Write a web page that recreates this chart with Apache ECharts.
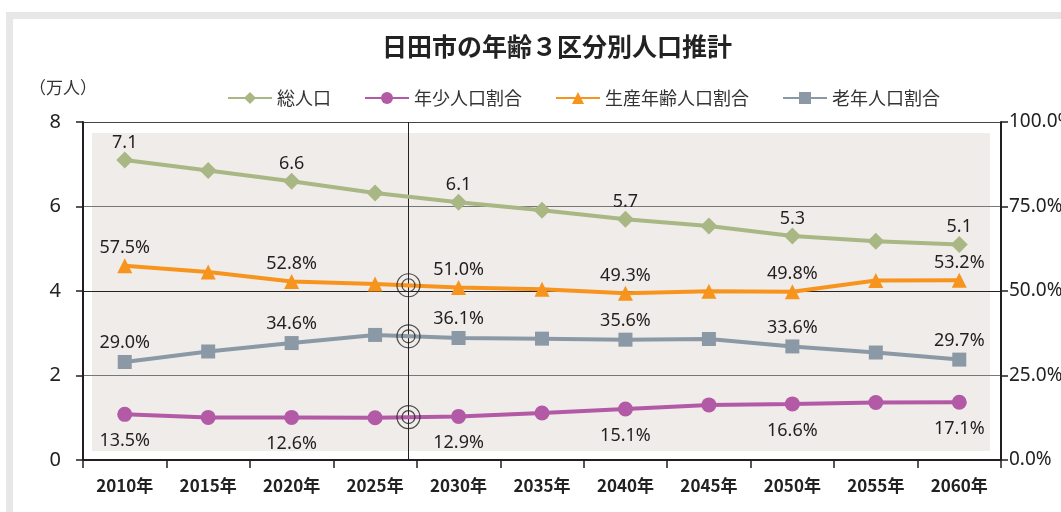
<!DOCTYPE html>
<html>
<head>
<meta charset="utf-8">
<script src="https://cdn.jsdelivr.net/npm/echarts@6/dist/echarts.min.js"></script>
<style>
html,body{margin:0;padding:0;background:#fff;}
#main{width:1061px;height:512px;}
</style>
</head>
<body>
<div id="main"></div>
<script>
// 年次
var years = ['2010年','2015年','2020年','2025年','2030年','2035年','2040年','2045年','2050年','2055年','2060年'];
// 総人口（万人）
var totalPop = [7.1, 6.85, 6.6, 6.32, 6.1, 5.91, 5.7, 5.54, 5.3, 5.18, 5.1];
// 年少人口割合（%）
var youngRate = [13.5, 12.6, 12.6, 12.5, 12.9, 13.9, 15.1, 16.3, 16.6, 17.0, 17.1];
// 生産年齢人口割合（%）
var workRate = [57.5, 55.6, 52.8, 52.1, 51.0, 50.5, 49.3, 49.9, 49.8, 53.1, 53.2];
// 老年人口割合（%）
var oldRate = [29.0, 32.1, 34.6, 37.0, 36.1, 35.9, 35.6, 35.8, 33.6, 31.8, 29.7];
// ラベルを出す年のindex
var labelIdx = [0, 2, 4, 6, 8, 10];
// 縦線と◎の位置
var markYear = 2027;
var markRates = [51.7, 36.6, 12.7];

var txtColor = '#231f20';

var makeLine = function(name, values, color, symbol, size, yIdx, pos, dist, fmt){
	return {
		name: name,
		type: 'line',
		yAxisIndex: yIdx,
		data: values.map(function(v, i){
			return {value: v, label: {show: labelIdx.indexOf(i) >= 0}};
		}),
		symbol: symbol,
		symbolSize: size,
		lineStyle: {color: color, width: 4},
		itemStyle: {color: color},
		label: {
			position: pos,
			distance: dist,
			color: txtColor,
			fontSize: 18,
			fontFamily: 'Noto Sans',
			formatter: function(p){ return fmt(p.value); }
		},
		emphasis: {disabled: true},
		z: 5
	};
};

var pct = function(v){ return v.toFixed(1) + '%'; };

var option = {
	animation: false,
	backgroundColor: '#fff',
	title: {
		text: '日田市の年齢３区分別人口推計',
		left: 552,
		textAlign: 'center',
		top: 29,
		textStyle: {fontSize: 25, fontWeight: 'bold', color: '#222', fontFamily: 'Noto Sans CJK JP'}
	},
	legend: {
		data: ['総人口','年少人口割合','生産年齢人口割合','老年人口割合'],
		left: 222,
		top: 84,
		itemGap: 33,
		itemWidth: 44,
		itemHeight: 15,
		textStyle: {fontSize: 18, color: '#333', fontFamily: 'Noto Sans CJK JP'}
	},
	graphic: [
		{type: 'rect', z: -30, shape: {x: 6, y: 12, width: 1200, height: 600}, style: {fill: '#e7e7e7'}},
		{type: 'rect', z: -29, shape: {x: 13, y: 19, width: 1200, height: 600}, style: {fill: '#fff'}},
		{type: 'rect', z: -28, shape: {x: 92, y: 133, width: 898, height: 318}, style: {fill: '#f0ecea'}},
		{type: 'text', z: 10, left: 29, top: 79, style: {text: '（万人）', fill: '#333', font: '17px "Noto Sans CJK JP"'}}
	],
	grid: {left: 83, right: 60, top: 122, bottom: 52, outerBoundsMode: 'none'},
	xAxis: [
		{
			type: 'category',
			data: years,
			boundaryGap: true,
			axisLine: {lineStyle: {color: txtColor, width: 2}},
			axisTick: {show: true, length: 8, lineStyle: {color: txtColor, width: 1.5}},
			axisLabel: {margin: 17, fontSize: 17, fontWeight: 'bold', color: '#222', fontFamily: 'Noto Sans CJK JP'},
			splitLine: {show: false}
		},
		{
			type: 'value',
			min: 2007.5,
			max: 2062.5,
			show: false
		}
	],
	yAxis: [
		{
			type: 'value',
			min: 0,
			max: 8,
			interval: 2,
			axisLine: {show: true, lineStyle: {color: txtColor, width: 2}},
			axisTick: {show: true, length: 7, lineStyle: {color: txtColor, width: 1.5}},
			axisLabel: {margin: 22, fontSize: 20, color: '#222', fontFamily: 'Noto Sans'},
			splitLine: {show: true, lineStyle: {color: ['#222', '#777', '#222', '#777', '#444'], width: 1}}
		},
		{
			type: 'value',
			min: 0,
			max: 100,
			interval: 25,
			position: 'right',
			axisLine: {show: true, lineStyle: {color: txtColor, width: 2}},
			axisTick: {show: true, length: 7, lineStyle: {color: txtColor, width: 1.5}},
			axisLabel: {margin: 8, fontSize: 19, color: '#222', fontFamily: 'Noto Sans', formatter: function(v){ return v.toFixed(1) + '%'; }},
			splitLine: {show: false}
		}
	],
	series: [
		makeLine('総人口', totalPop, '#a9b784', 'diamond', 17, 0, 'top', 0, function(v){ return v.toFixed(1); }),
		makeLine('年少人口割合', youngRate, '#b25aa5', 'circle', 15, 1, 'bottom', 10, pct),
		makeLine('生産年齢人口割合', workRate, '#f7941d', 'triangle', 15, 1, 'top', 1, pct),
		makeLine('老年人口割合', oldRate, '#8a99a5', 'rect', 14, 1, 'top', 3, pct),
		{
			name: 'ring',
			type: 'scatter',
			xAxisIndex: 1,
			yAxisIndex: 1,
			data: markRates.map(function(v){ return [markYear, v]; }),
			symbolSize: 23,
			itemStyle: {color: 'rgba(0,0,0,0)', borderColor: '#222', borderWidth: 1.2},
			emphasis: {disabled: true},
			silent: true,
			z: 8,
			markLine: {
				silent: true,
				symbol: ['none', 'none'],
				label: {show: false},
				lineStyle: {color: '#222', width: 1, type: 'solid'},
				data: [{xAxis: markYear}]
			}
		},
		{
			name: 'ring2',
			type: 'scatter',
			xAxisIndex: 1,
			yAxisIndex: 1,
			data: markRates.map(function(v){ return [markYear, v]; }),
			symbolSize: 13,
			itemStyle: {color: 'rgba(0,0,0,0)', borderColor: '#222', borderWidth: 1.2},
			emphasis: {disabled: true},
			silent: true,
			z: 8
		}
	]
};

var myChart = echarts.init(document.getElementById('main'));
myChart.setOption(option);
</script>
</body>
</html>
